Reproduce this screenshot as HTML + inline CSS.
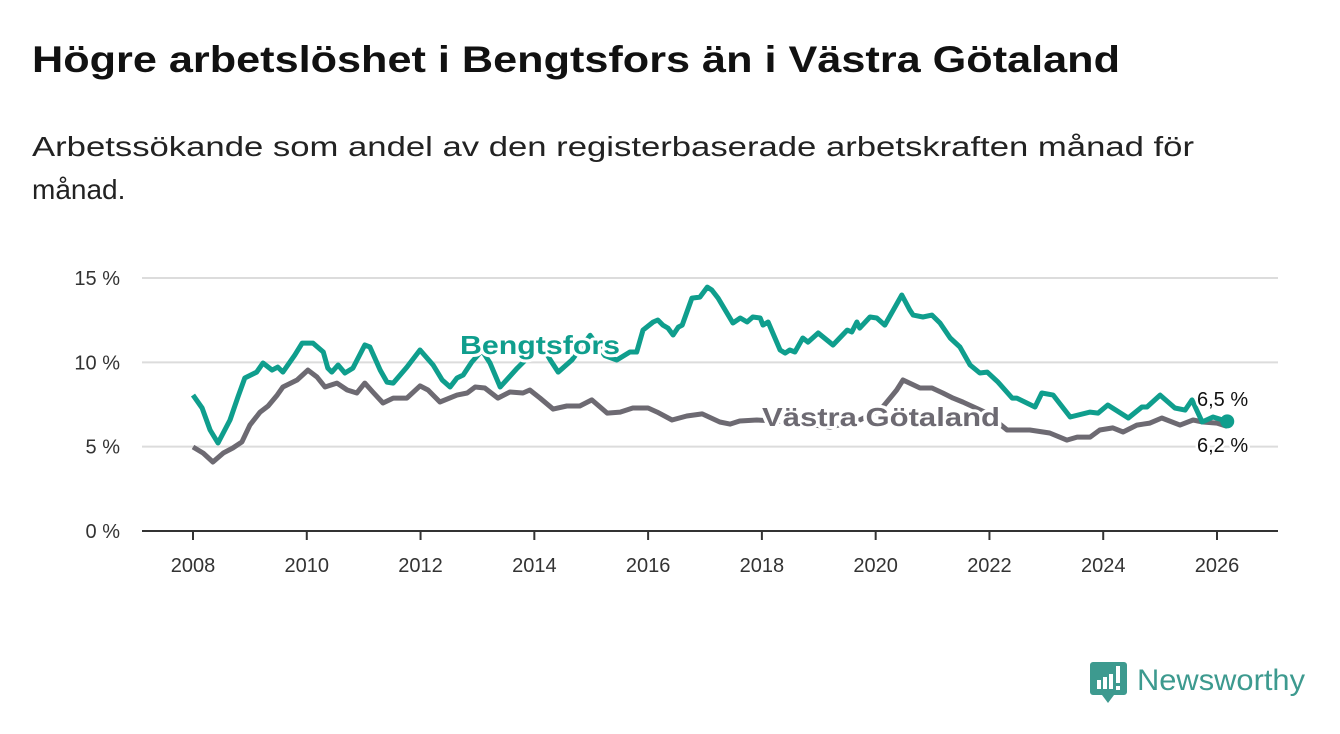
<!DOCTYPE html>
<html><head><meta charset="utf-8"><style>
html,body{margin:0;padding:0;background:#fff;}
svg{display:block;font-family:"Liberation Sans",sans-serif;}
</style></head><body>
<svg id="chart" width="1340" height="734" viewBox="0 0 1340 734" xmlns="http://www.w3.org/2000/svg">
<text x="32" y="72" font-size="37" font-weight="bold" fill="#111" textLength="1088" lengthAdjust="spacingAndGlyphs">Högre arbetslöshet i Bengtsfors än i Västra Götaland</text>
<text x="32" y="156" font-size="28" fill="#222" textLength="1162" lengthAdjust="spacingAndGlyphs">Arbetssökande som andel av den registerbaserade arbetskraften månad för</text>
<text x="32" y="199" font-size="28" fill="#222">månad.</text>
<g id="grid"></g>
<g id="axes"></g>
<g id="series"></g>
<g id="labels"></g>
<g>
<path d="M1093 662 h31 a3 3 0 0 1 3 3 v27 a3 3 0 0 1 -3 3 h-10 l-6 8 l-6 -8 h-9 a3 3 0 0 1 -3 -3 v-27 a3 3 0 0 1 3 -3z" fill="#3d9a8f"/>
<rect x="1097" y="680" width="4" height="9" fill="#fff"/><rect x="1103" y="677" width="4" height="12" fill="#fff"/><rect x="1109" y="674" width="4" height="15" fill="#fff"/><rect x="1116" y="666" width="4" height="17" fill="#fff"/><rect x="1116" y="686" width="4" height="4" fill="#fff"/>
<text x="1137" y="690" font-size="30" fill="#3d9a8f" textLength="168" lengthAdjust="spacingAndGlyphs">Newsworthy</text>
</g>
</svg>
<script>
const yTicks=[0,5,10,15];
const xTicks=[2008,2010,2012,2014,2016,2018,2020,2022,2024,2026];
const bDates=[2008.0,2008.16,2008.30,2008.44,2008.65,2008.79,2008.91,2009.12,2009.23,2009.39,2009.49,2009.58,2009.79,2009.92,2010.11,2010.29,2010.37,2010.44,2010.55,2010.67,2010.81,2011.02,2011.11,2011.29,2011.41,2011.52,2011.76,2011.99,2012.22,2012.38,2012.52,2012.64,2012.75,2012.90,2013.08,2013.22,2013.40,2013.70,2013.92,2014.15,2014.28,2014.42,2014.66,2014.98,2015.24,2015.45,2015.68,2015.80,2015.91,2016.09,2016.17,2016.26,2016.35,2016.44,2016.53,2016.60,2016.77,2016.91,2017.04,2017.12,2017.23,2017.49,2017.62,2017.74,2017.84,2017.97,2018.02,2018.11,2018.32,2018.41,2018.49,2018.58,2018.72,2018.81,2018.99,2019.25,2019.50,2019.58,2019.67,2019.72,2019.90,2020.02,2020.16,2020.46,2020.60,2020.66,2020.83,2020.99,2021.13,2021.31,2021.48,2021.66,2021.83,2021.96,2022.15,2022.40,2022.48,2022.80,2022.92,2023.12,2023.42,2023.77,2023.91,2024.08,2024.44,2024.68,2024.77,2025.00,2025.26,2025.44,2025.56,2025.74,2025.93,2026.18];
const bVals=[8.06,7.29,5.99,5.22,6.58,7.94,9.07,9.42,9.96,9.54,9.72,9.42,10.43,11.14,11.14,10.61,9.66,9.42,9.84,9.37,9.66,11.03,10.91,9.54,8.83,8.77,9.72,10.73,9.84,8.95,8.54,9.07,9.25,10.02,10.7,9.96,8.54,9.66,10.4,10.9,10.14,9.42,10.14,11.6,10.4,10.14,10.61,10.61,11.91,12.39,12.51,12.21,12.03,11.62,12.09,12.21,13.81,13.87,14.46,14.29,13.81,12.33,12.63,12.39,12.69,12.63,12.21,12.39,10.73,10.55,10.73,10.61,11.44,11.20,11.74,11.03,11.91,11.80,12.39,12.03,12.69,12.63,12.21,13.99,13.10,12.80,12.69,12.80,12.33,11.44,10.91,9.84,9.37,9.42,8.83,7.88,7.88,7.35,8.18,8.06,6.76,7.05,6.99,7.47,6.70,7.35,7.35,8.06,7.29,7.17,7.77,6.46,6.76,6.5];
const vDates=[2008.0,2008.18,2008.35,2008.53,2008.70,2008.86,2009.00,2009.18,2009.32,2009.48,2009.58,2009.83,2010.02,2010.18,2010.32,2010.53,2010.71,2010.88,2011.02,2011.16,2011.34,2011.52,2011.76,2011.99,2012.13,2012.34,2012.64,2012.82,2012.96,2013.13,2013.36,2013.57,2013.80,2013.92,2014.10,2014.33,2014.57,2014.80,2015.01,2015.28,2015.51,2015.73,2016.00,2016.16,2016.42,2016.68,2016.95,2017.26,2017.44,2017.61,2017.91,2018.23,2018.67,2019.20,2019.72,2020.08,2020.37,2020.48,2020.78,2020.99,2021.18,2021.36,2021.53,2021.92,2022.31,2022.71,2023.06,2023.36,2023.54,2023.77,2023.94,2024.17,2024.35,2024.59,2024.82,2025.03,2025.35,2025.58,2025.75,2026.00,2026.18];
const vVals=[4.98,4.62,4.09,4.62,4.92,5.28,6.28,7.05,7.41,8.06,8.54,8.95,9.54,9.13,8.54,8.77,8.36,8.18,8.77,8.24,7.59,7.88,7.88,8.60,8.36,7.65,8.06,8.18,8.54,8.48,7.88,8.24,8.18,8.36,7.88,7.23,7.41,7.41,7.77,6.99,7.05,7.29,7.29,7.05,6.58,6.82,6.94,6.46,6.34,6.52,6.58,6.52,6.40,6.16,6.58,7.17,8.36,8.95,8.48,8.48,8.18,7.88,7.65,7.05,5.99,5.99,5.81,5.39,5.57,5.57,5.99,6.11,5.87,6.28,6.40,6.70,6.28,6.58,6.46,6.40,6.2];
const X=t=>193+(t-2008)*(1217-193)/18;
const Y=v=>531-v*(531-278)/15;
const NS="http://www.w3.org/2000/svg";
function mk(tag,attrs,parent,text){const e=document.createElementNS(NS,tag);for(const k in attrs)e.setAttribute(k,attrs[k]);if(text!==undefined)e.textContent=text;parent.appendChild(e);return e;}
const grid=document.getElementById('grid'),axes=document.getElementById('axes'),series=document.getElementById('series'),labels=document.getElementById('labels');
yTicks.forEach(v=>{
 if(v>0){const l=mk('line',{x1:142,x2:1278,y1:Y(v),y2:Y(v),stroke:'#dcdcdc','stroke-width':2},grid);
 
 }
 const t=mk('text',{x:120,y:Y(v)+7,'text-anchor':'end','font-size':20,fill:'#333'},axes,v+' %');
 
 
});
const ax=mk('line',{x1:142,x2:1278,y1:531,y2:531,stroke:'#333','stroke-width':2},axes);


xTicks.forEach(yr=>{
 const tk=mk('line',{x1:X(yr),x2:X(yr),y1:531,y2:540,stroke:'#333','stroke-width':2},axes);
 
 
 const t=mk('text',{x:X(yr),y:572,'text-anchor':'middle','font-size':20,fill:'#333'},axes,yr);
 
 
});
function pts(d,v){return d.map((t,i)=>X(t).toFixed(1)+','+Y(v[i]).toFixed(1)).join(' ');}
const pv=mk('polyline',{points:pts(vDates,vVals),fill:'none',stroke:'#6d6a72','stroke-width':5,'stroke-linejoin':'round'},series);


const pb=mk('polyline',{points:pts(bDates,bVals),fill:'none',stroke:'#0f9e8d','stroke-width':5,'stroke-linejoin':'round'},series);


const li=bDates.length-1;
const dot=mk('circle',{cx:X(bDates[li]),cy:Y(bVals[li]),r:7,fill:'#0f9e8d'},series);


function lab(x,y,txt,col,size,w,name){
 const h=mk('text',{x:x,y:y,'font-size':size,'font-weight':'bold',fill:'#fff',stroke:'#fff','stroke-width':6,'stroke-linejoin':'round',textLength:w,lengthAdjust:'spacingAndGlyphs'},labels,txt);
 
 
 const t=mk('text',{x:x,y:y,'font-size':size,'font-weight':'bold',fill:col,textLength:w,lengthAdjust:'spacingAndGlyphs'},labels,txt);
 
 
}
lab(460,354,'Bengtsfors','#0f9e8d',26,160,'bengtsfors-label');
lab(762,426,'Västra Götaland','#6d6a72',26,238,'vastra-gotaland-label');
const e1=mk('text',{x:1197,y:406,'font-size':20,fill:'#111',stroke:'#fff','stroke-width':5,'paint-order':'stroke'},labels,'6,5 %');


const e2=mk('text',{x:1197,y:452,'font-size':20,fill:'#111',stroke:'#fff','stroke-width':5,'paint-order':'stroke'},labels,'6,2 %');


</script>
</body></html>
